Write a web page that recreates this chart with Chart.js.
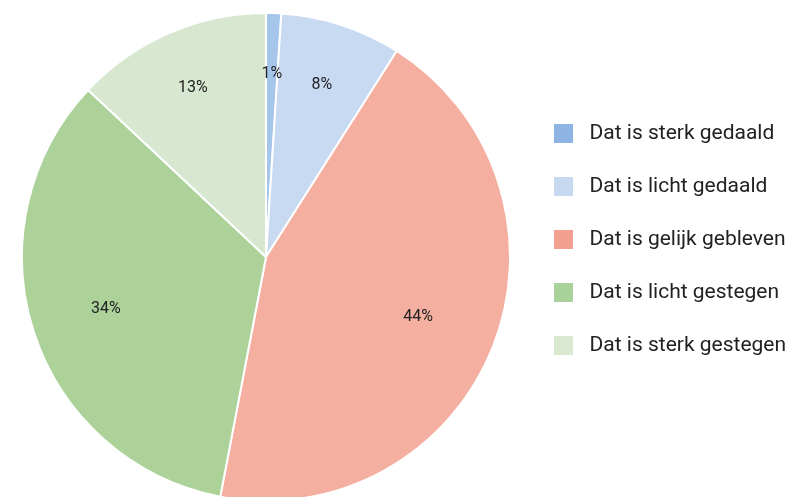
<!DOCTYPE html>
<html>
<head>
<meta charset="utf-8">
<script src="https://cdn.jsdelivr.net/npm/chart.js@4"></script>
<style>
    html, body { margin: 0; padding: 0; background: #fff; overflow: hidden; }
    .wrap { position: relative; width: 791px; height: 497px; }
</style>
</head>
<body>
<div class="wrap"><canvas id="pieChart"></canvas></div>
<script>
// --- data ---
const categories = ['Dat is sterk gedaald', 'Dat is licht gedaald', 'Dat is gelijk gebleven', 'Dat is licht gestegen', 'Dat is sterk gestegen'];
const shares = [1, 8, 44, 34, 13];

// slice colours (pie is a bit paler than the legend swatches)
const sliceColors = ['#a6c5eb', '#c8daf2', '#f5afa0', '#acd29a', '#d8e8d0'];
const legendColors = ['#8db4e2', '#c6d9f1', '#f4a090', '#a9d29a', '#d8e9d0'];
// how far out each percentage sits, as a share of the radius
const labelRadius = [0.75, 0.74, 0.67, 0.69, 0.755];

// small swatch images so the gap between box and text matches
function swatch(color) {
    const c = document.createElement('canvas');
    c.width = 25;
    c.height = 19;
    const g = c.getContext('2d');
    g.fillStyle = color;
    g.fillRect(0, 0, 19, 19);
    return c;
}

const pctLabels = {
    id: 'pctLabels',
    afterDatasetsDraw(chart) {
        const ctx = chart.ctx;
        const meta = chart.getDatasetMeta(0);
        ctx.save();
        ctx.font = '16px Roboto';
        ctx.fillStyle = '#222';
        ctx.textAlign = 'center';
        ctx.textBaseline = 'middle';
        meta.data.forEach((arc, i) => {
            const p = arc.getProps(['x', 'y', 'startAngle', 'endAngle', 'outerRadius'], true);
            const mid = (p.startAngle + p.endAngle) / 2;
            const r = p.outerRadius * labelRadius[i];
            ctx.fillText(shares[i] + '%', p.x + Math.cos(mid) * r, p.y + Math.sin(mid) * r);
        });
        ctx.restore();
    }
};

const ctx = document.getElementById('pieChart').getContext('2d');
new Chart(ctx, {
    type: 'pie',
    data: {
        labels: categories,
        datasets: [{
            data: shares,
            backgroundColor: sliceColors,
            borderColor: '#ffffff',
            borderWidth: 2,
            radius: 244
        }]
    },
    options: {
        responsive: true,
        maintainAspectRatio: false,
        animation: false,
        layout: { padding: { top: 17, left: 10, right: 0, bottom: 0 } },
        plugins: {
            tooltip: { enabled: false },
            title: { display: false },
            legend: {
                position: 'right',
                align: 'start',
                maxWidth: 269,
                title: {
                    display: true,
                    text: ' ',
                    font: { size: 10, lineHeight: 1 },
                    padding: { top: 64, bottom: 0 }
                },
                labels: {
                    usePointStyle: true,
                    pointStyleWidth: 25,
                    padding: 32,
                    color: '#222',
                    font: { family: 'Roboto', size: 21 },
                    generateLabels: function(chart) {
                        return categories.map((name, i) => ({
                            text: name,
                            fillStyle: legendColors[i],
                            strokeStyle: legendColors[i],
                            fontColor: '#222',
                            lineWidth: 0,
                            pointStyle: swatch(legendColors[i]),
                            hidden: false,
                            index: i
                        }));
                    }
                }
            }
        }
    },
    plugins: [pctLabels]
});
</script>
</body>
</html>
